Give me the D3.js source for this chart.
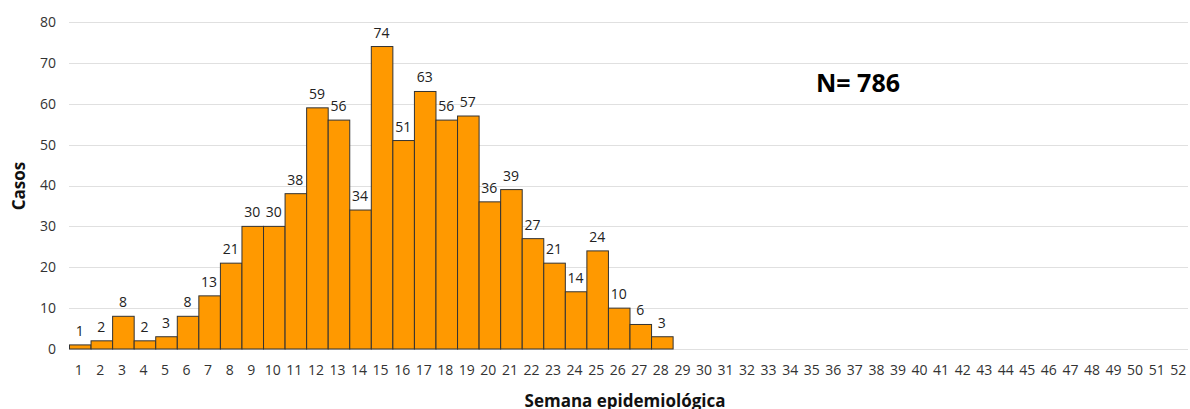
<!DOCTYPE html>
<html><head><meta charset="utf-8">
<script src="https://cdn.jsdelivr.net/npm/d3@7"></script>
<style>body{margin:0;background:#fff}svg{display:block;font-family:"Open Sans",sans-serif}</style>
</head><body><svg id="c" width="1190" height="409"></svg>
<script>
const weeks = d3.range(1, 53).map(String);
const cases = [1,2,8,2,3,8,13,21,30,30,38,59,56,34,74,51,63,56,57,36,39,27,21,14,24,10,6,3];
const yTicks = [0,10,20,30,40,50,60,70,80];
const totalLabel = "N= 786";
const yTitle = "Casos";
const xTitle = "Semana epidemiológica";

const svg = d3.select("#c");
const m = {left: 69, right: 1190, top: 22, bottom: 349};
const x = d3.scaleBand().domain(weeks).range([m.left, m.right]).padding(0);
const y = d3.scaleLinear().domain([0, 80]).range([m.bottom, m.top]);

svg.append("g").selectAll("line").data(yTicks).join("line")
  .attr("x1", m.left).attr("x2", m.right - 2)
  .attr("y1", d => Math.round(y(d)) + 0.5).attr("y2", d => Math.round(y(d)) + 0.5)
  .attr("stroke", "#e0e0e0").attr("stroke-width", 1);

svg.append("g").selectAll("text").data(yTicks).join("text")
  .attr("x", 56).attr("y", d => y(d)).attr("dy", "0.35em")
  .attr("text-anchor", "end").attr("font-size", 14).attr("fill", "#333").text(d => d);

const data = cases.map((v, i) => ({w: weeks[i], v}));
svg.append("g").selectAll("rect").data(data).join("rect")
  .attr("x", d => x(d.w) + 0.5).attr("y", d => y(d.v))
  .attr("width", x.bandwidth()).attr("height", d => y(0) - y(d.v))
  .attr("fill", "#ff9900").attr("stroke", "#333").attr("stroke-width", 1);

svg.append("g").selectAll("text").data(data).join("text")
  .attr("x", d => x(d.w) + x.bandwidth() / 2).attr("y", d => y(d.v) - 9)
  .attr("text-anchor", "middle").attr("font-size", 14).attr("fill", "#222").text(d => d.v);

svg.append("g").selectAll("text").data(weeks).join("text")
  .attr("x", d => x(d) + x.bandwidth() / 2 - 1).attr("y", 370).attr("dy", "0.35em")
  .attr("text-anchor", "middle").attr("font-size", 14).attr("fill", "#333").text(d => d);

svg.append("text").attr("transform", "translate(25,186) rotate(-90)")
  .attr("text-anchor", "middle").attr("font-size", 17).attr("font-weight", "bold").attr("fill", "#111").text(yTitle);

svg.append("text").attr("x", 625).attr("y", 407)
  .attr("text-anchor", "middle").attr("font-size", 17).attr("font-weight", "bold").attr("fill", "#111").text(xTitle);

svg.append("text").attr("x", 858).attr("y", 92)
  .attr("text-anchor", "middle").attr("font-size", 25).attr("font-weight", "bold").attr("fill", "#000").text(totalLabel);
</script></body></html>
